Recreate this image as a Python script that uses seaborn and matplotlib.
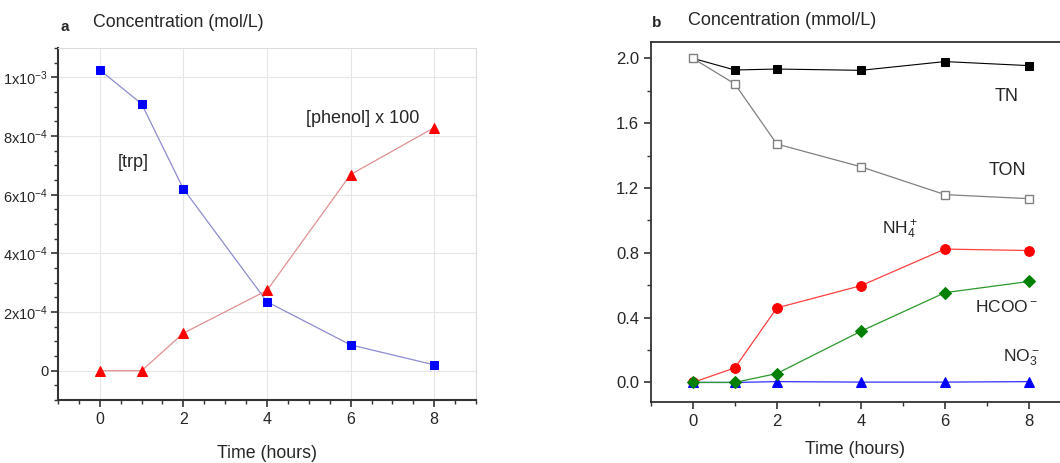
import matplotlib
matplotlib.use("Agg")
import matplotlib.pyplot as plt
import seaborn as sns
from matplotlib.ticker import FixedLocator, FixedFormatter, MultipleLocator

# panel a data (mol/L)
hours_a = [0, 1, 2, 4, 6, 8]
trp = [1.026e-3, 0.91e-3, 0.62e-3, 2.35e-4, 0.88e-4, 0.2e-4]
phenol_x100 = [0.0, 0.0, 1.28e-4, 2.74e-4, 6.69e-4, 8.29e-4]
a_yticks = [0, 2e-4, 4e-4, 6e-4, 8e-4, 1e-3]
a_ylabels = ["0", "2x10$^{-4}$", "4x10$^{-4}$", "6x10$^{-4}$", "8x10$^{-4}$", "1x10$^{-3}$"]

# panel b data (mmol/L)
hours_b = [0, 1, 2, 4, 6, 8]
tn = [2.0, 1.928, 1.934, 1.926, 1.98, 1.955]
ton = [2.0, 1.842, 1.471, 1.331, 1.159, 1.134]
nh4 = [0.0, 0.09, 0.46, 0.597, 0.823, 0.814]
hcoo = [0.0, 0.0, 0.055, 0.316, 0.554, 0.623]
no3 = [0.0, 0.0, 0.005, 0.002, 0.002, 0.005]

sns.set_style("ticks")
plt.rcParams['font.family'] = ['Liberation Sans', 'DejaVu Sans']
plt.rcParams['mathtext.default'] = 'regular'
plt.rcParams['xtick.direction'] = 'out'
plt.rcParams['ytick.direction'] = 'out'

fig = plt.figure(figsize=(10.6, 4.63), dpi=100)
ax_a = fig.add_axes([0.0547, 0.136, 0.3944, 0.760])
ax_b = fig.add_axes([0.614, 0.132, 0.386, 0.777])

############# panel a #############
ax = ax_a
sns.lineplot(x=hours_a, y=trp, ax=ax, color="#8c8cd0", lw=0.9, marker="s", ms=6,
             markerfacecolor="#0000ff", markeredgecolor="#0000ff")
sns.lineplot(x=hours_a, y=phenol_x100, ax=ax, color="#e09090", lw=0.9, marker="^", ms=7,
             markerfacecolor="#ff0000", markeredgecolor="#ff0000")
ax.set_xlim(-1, 9)
ax.set_ylim(-1e-4, 1.1e-3)
ax.xaxis.set_major_locator(FixedLocator([0, 2, 4, 6, 8]))
ax.xaxis.set_minor_locator(MultipleLocator(0.5))
ax.yaxis.set_major_locator(FixedLocator(a_yticks))
ax.yaxis.set_major_formatter(FixedFormatter(a_ylabels))
ax.yaxis.set_minor_locator(MultipleLocator(5e-5))
ax.grid(True, which="major", color="#e6e6e6", lw=0.8)
for side in ["top", "right"]:
  ax.spines[side].set_color("#dddddd")
for side in ["left", "bottom"]:
  ax.spines[side].set_color("#333333")
  ax.spines[side].set_linewidth(1.5)
ax.tick_params(which="major", length=5, width=1.2, labelsize=11.5, color="#333333")
ax.tick_params(which="minor", length=3, width=1.0, color="#333333")
ax.tick_params(axis="y", which="major", labelsize=10.5, pad=2)
ax.tick_params(axis="x", which="both", top=False)
ax.tick_params(axis="y", which="both", right=False)
ax.set_xlabel("Time (hours)", fontsize=12.8, labelpad=13)
ax.text(0.79, 7.09e-4, "[trp]", fontsize=13, ha="center", va="center")
ax.text(6.29, 8.6e-4, "[phenol] x 100", fontsize=13, ha="center", va="center")
fig.text(0.0613, 0.942, "a", fontsize=11, fontweight="bold", ha="center", va="center")
fig.text(0.088, 0.952, "Concentration (mol/L)", fontsize=12.8, ha="left", va="center")

############# panel b #############
ax = ax_b
sns.lineplot(x=hours_b, y=tn, ax=ax, color="black", lw=0.8, marker="s", ms=6,
             markerfacecolor="black", markeredgecolor="black")
sns.lineplot(x=hours_b, y=ton, ax=ax, color="#808080", lw=0.9, marker="s", ms=6,
             markerfacecolor="white", markeredgecolor="#808080", markeredgewidth=1.0)
sns.lineplot(x=hours_b, y=nh4, ax=ax, color="#ff4040", lw=0.9, marker="o", ms=7,
             markerfacecolor="#ff0000", markeredgecolor="#ff0000")
sns.lineplot(x=hours_b, y=no3, ax=ax, color="#3030ff", lw=0.9, marker="^", ms=7,
             markerfacecolor="#0000ff", markeredgecolor="#0000ff")
sns.lineplot(x=hours_b, y=hcoo, ax=ax, color="#2a9a2a", lw=0.9, marker="D", ms=6,
             markerfacecolor="#008000", markeredgecolor="#008000")
ax.set_xlim(-1, 8.74)
ax.set_ylim(-0.12, 2.1)
ax.xaxis.set_major_locator(FixedLocator([0, 2, 4, 6, 8]))
ax.xaxis.set_minor_locator(MultipleLocator(1))
ax.yaxis.set_major_locator(FixedLocator([0.0, 0.4, 0.8, 1.2, 1.6, 2.0]))
ax.yaxis.set_major_formatter(FixedFormatter(["0.0", "0.4", "0.8", "1.2", "1.6", "2.0"]))
ax.yaxis.set_minor_locator(MultipleLocator(0.2))
ax.grid(False)
ax.spines["right"].set_visible(False)
for side in ["left", "bottom", "top"]:
  ax.spines[side].set_color("#333333")
  ax.spines[side].set_linewidth(1.3)
ax.tick_params(which="major", length=5, width=1.2, labelsize=12, color="#333333")
ax.tick_params(which="minor", length=3, width=1.0, color="#333333")
ax.tick_params(axis="x", which="both", top=False)
ax.tick_params(axis="y", which="both", right=False)
ax.set_xlabel("Time (hours)", fontsize=12.8, labelpad=9)
ax.text(7.48, 1.766, "TN", fontsize=13, ha="center", va="center")
ax.text(7.48, 1.31, "TON", fontsize=13, ha="center", va="center")
ax.text(4.93, 0.94, "NH$_4^+$", fontsize=12.5, ha="center", va="center")
ax.text(7.48, 0.468, "HCOO$^-$", fontsize=12.5, ha="center", va="center")
ax.text(7.83, 0.154, "NO$_3^-$", fontsize=12.5, ha="center", va="center")
fig.text(0.619, 0.950, "b", fontsize=11, fontweight="bold", ha="center", va="center")
fig.text(0.649, 0.955, "Concentration (mmol/L)", fontsize=13, ha="left", va="center")

fig.savefig("out.png", dpi=100)
